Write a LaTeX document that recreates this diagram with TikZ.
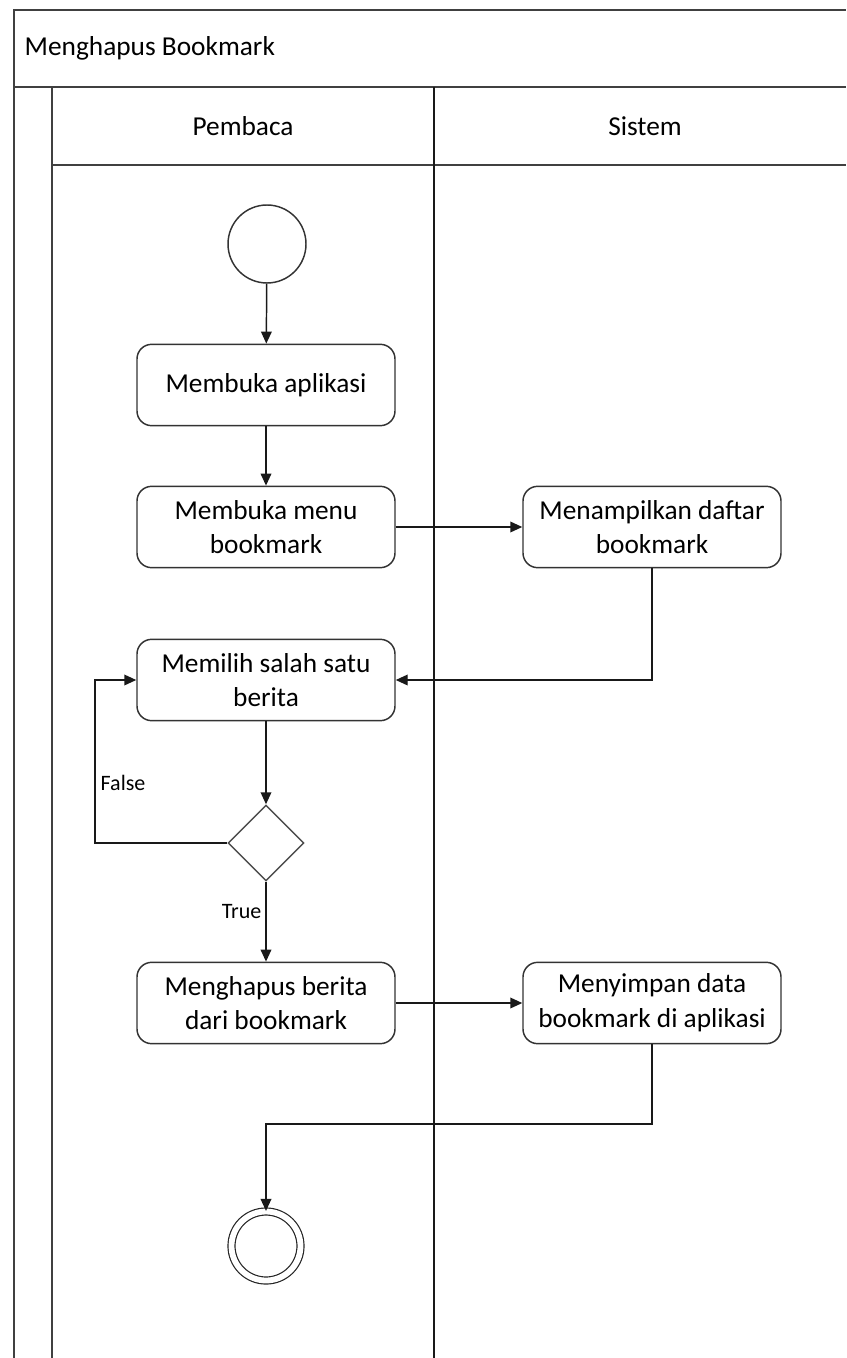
\documentclass[tikz,border=0pt]{standalone}
\usepackage{fontspec}
\setmainfont{Carlito}
\usetikzlibrary{arrows.meta, shapes.geometric, positioning, calc}

\begin{document}
\begin{tikzpicture}[
    x=0.75pt, y=-0.75pt,
    every node/.style={font=\fontsize{20.5}{26}\selectfont},
    lane/.style={line width=1.3pt, draw=black!75},
    activity/.style={
        draw=black!80, line width=1.1pt, rounded corners=11pt,
        minimum width=193.5pt, minimum height=61pt,
        align=center, inner sep=2pt
    },
    initial/.style={draw=black!80, line width=1.1pt, circle, minimum size=58.5pt, inner sep=0pt},
    final/.style={draw=black!85, line width=0.9pt, circle, minimum size=51.75pt, inner sep=0pt,
        double, double distance=4.35pt},
    decision/.style={draw=black!70, line width=1.1pt, diamond, minimum width=57pt, minimum height=57pt, inner sep=0pt},
    guard/.style={font=\fontsize{16.5}{18}\selectfont},
    flow/.style={->, line width=1.1pt, draw=black!90},
    >={Triangle[length=9pt, width=8pt]}
]

\useasboundingbox (0,0) rectangle (846,1358);

% Swimlane frame (cut off on the right and at the bottom)
\draw[lane] (14,1358) -- (14,10) -- (846,10);
\draw[lane] (14,87) -- (846,87);
\draw[lane] (52,87) -- (52,1358);
\draw[lane] (52,165) -- (846,165);
\draw[lane, draw=black!90, line width=1pt] (434,87) -- (434,1358);

\node[anchor=west] (title) at (20,48) {Menghapus Bookmark};
\node (pembaca) at (243,126) {Pembaca};
\node (sistem)  at (645,126) {Sistem};

% Activities
\node[initial]  (start)    at (267,244)  {};
\node[activity] (bukaapp)  at (266,385)  {Membuka aplikasi};
\node[activity] (bukamenu) at (266,527)  {Membuka menu\\bookmark};
\node[activity] (tampil)   at (652,527)  {Menampilkan daftar\\bookmark};
\node[activity] (pilih)    at (266,680)  {Memilih salah satu\\berita};
\node[decision] (cek)      at (266,843)  {};
\node[activity] (hapus)    at (266,1003) {Menghapus berita\\dari bookmark};
\node[activity] (simpan)   at (652,1003) {Menyimpan data\\bookmark di aplikasi};
\node[final]    (stop)     at (266,1246) {};

% Bend points
\coordinate (loop) at (95,843);
\coordinate (turn) at (266,1124);

% Control flow
\draw[flow] (start) -- (bukaapp);
\draw[flow] (bukaapp) -- (bukamenu);
\draw[flow] (bukamenu) -- (tampil);
\draw[flow] (tampil.south) |- (pilih.east);
\draw[flow] (pilih) -- (cek);
\draw[flow] (cek.west) -- (loop) |- (pilih.west);
\draw[flow] (cek) -- (hapus);
\draw[flow] (hapus) -- (simpan);
\draw[flow] (simpan.south) |- (turn) -- (stop);

% Guards
\node[guard, anchor=west] (false) at (96,783) {False};
\node[guard, anchor=east] (true)  at (266,912) {True};

\end{tikzpicture}
\end{document}
